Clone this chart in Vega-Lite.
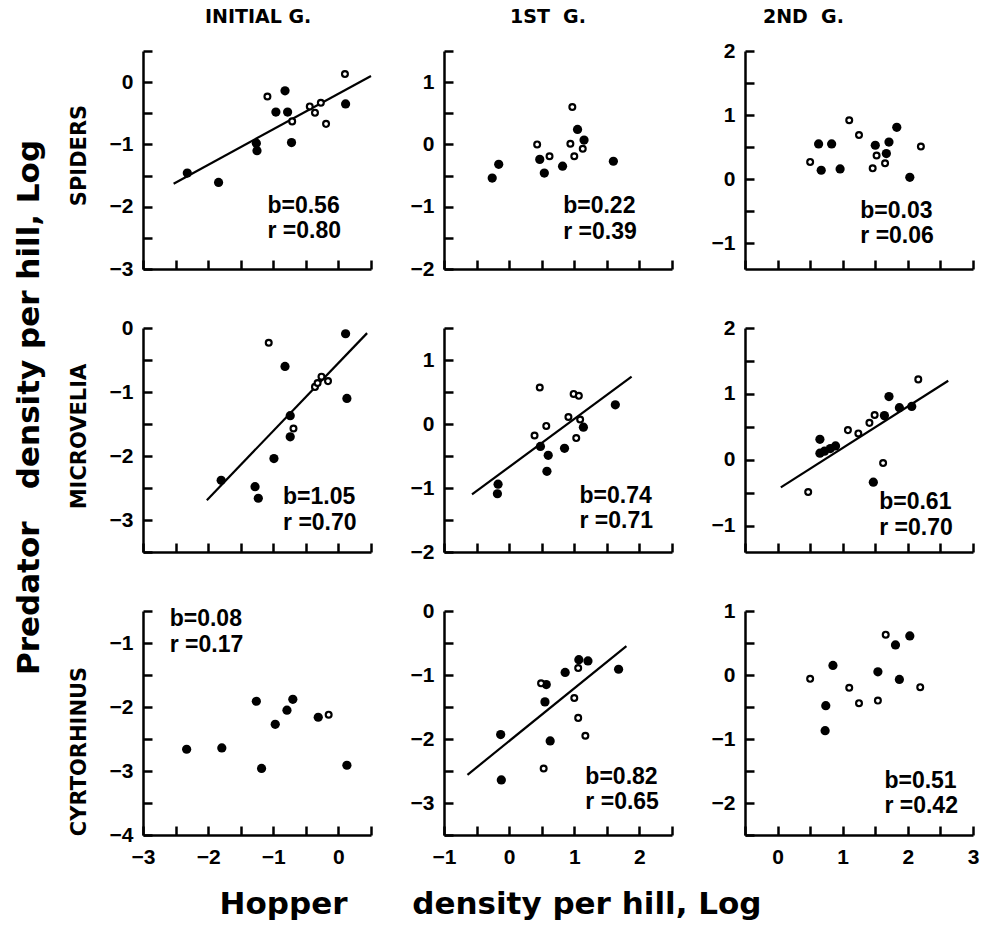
{
  "$schema": "https://vega.github.io/schema/vega-lite/v6.json",
  "padding": {"left": 14, "top": 8, "right": 8, "bottom": 8},
  "title": {"text": "Predator\u00a0\u00a0\u00a0density per hill, Log", "orient": "left", "anchor": "middle", "font": "DejaVu Sans", "fontSize": 31, "fontWeight": "bold", "offset": 22, "dx": 56},
  "datasets": {
    "pts": [
      {"pred":"S","gen":"I","kind":"f","x":-2.32,"y":-1.46},{"pred":"S","gen":"I","kind":"f","x":-1.84,"y":-1.61},{"pred":"S","gen":"I","kind":"f","x":-1.26,"y":-0.98},{"pred":"S","gen":"I","kind":"f","x":-1.25,"y":-1.10},{"pred":"S","gen":"I","kind":"f","x":-0.96,"y":-0.48},{"pred":"S","gen":"I","kind":"f","x":-0.82,"y":-0.14},{"pred":"S","gen":"I","kind":"f","x":-0.78,"y":-0.48},{"pred":"S","gen":"I","kind":"f","x":-0.72,"y":-0.97},{"pred":"S","gen":"I","kind":"f","x":0.11,"y":-0.35},
      {"pred":"S","gen":"I","kind":"o","x":-1.09,"y":-0.23},{"pred":"S","gen":"I","kind":"o","x":-0.71,"y":-0.63},{"pred":"S","gen":"I","kind":"o","x":-0.44,"y":-0.39},{"pred":"S","gen":"I","kind":"o","x":-0.36,"y":-0.49},{"pred":"S","gen":"I","kind":"o","x":-0.27,"y":-0.33},{"pred":"S","gen":"I","kind":"o","x":-0.19,"y":-0.67},{"pred":"S","gen":"I","kind":"o","x":0.10,"y":0.13},
      {"pred":"S","gen":"1","kind":"f","x":-0.26,"y":-0.54},{"pred":"S","gen":"1","kind":"f","x":-0.16,"y":-0.32},{"pred":"S","gen":"1","kind":"f","x":0.47,"y":-0.24},{"pred":"S","gen":"1","kind":"f","x":0.54,"y":-0.46},{"pred":"S","gen":"1","kind":"f","x":0.82,"y":-0.35},{"pred":"S","gen":"1","kind":"f","x":1.05,"y":0.24},{"pred":"S","gen":"1","kind":"f","x":1.15,"y":0.07},{"pred":"S","gen":"1","kind":"f","x":1.60,"y":-0.27},
      {"pred":"S","gen":"1","kind":"o","x":0.43,"y":0.0},{"pred":"S","gen":"1","kind":"o","x":0.62,"y":-0.19},{"pred":"S","gen":"1","kind":"o","x":0.94,"y":0.01},{"pred":"S","gen":"1","kind":"o","x":0.97,"y":0.60},{"pred":"S","gen":"1","kind":"o","x":1.0,"y":-0.19},{"pred":"S","gen":"1","kind":"o","x":1.13,"y":-0.07},
      {"pred":"S","gen":"2","kind":"f","x":0.63,"y":0.55},{"pred":"S","gen":"2","kind":"f","x":0.67,"y":0.14},{"pred":"S","gen":"2","kind":"f","x":0.83,"y":0.55},{"pred":"S","gen":"2","kind":"f","x":0.96,"y":0.16},{"pred":"S","gen":"2","kind":"f","x":1.50,"y":0.53},{"pred":"S","gen":"2","kind":"f","x":1.67,"y":0.40},{"pred":"S","gen":"2","kind":"f","x":1.71,"y":0.58},{"pred":"S","gen":"2","kind":"f","x":1.83,"y":0.81},{"pred":"S","gen":"2","kind":"f","x":2.03,"y":0.03},
      {"pred":"S","gen":"2","kind":"o","x":0.50,"y":0.27},{"pred":"S","gen":"2","kind":"o","x":1.10,"y":0.92},{"pred":"S","gen":"2","kind":"o","x":1.25,"y":0.69},{"pred":"S","gen":"2","kind":"o","x":1.46,"y":0.17},{"pred":"S","gen":"2","kind":"o","x":1.52,"y":0.37},{"pred":"S","gen":"2","kind":"o","x":1.65,"y":0.25},{"pred":"S","gen":"2","kind":"o","x":2.20,"y":0.51},
      {"pred":"M","gen":"I","kind":"f","x":-1.80,"y":-2.38},{"pred":"M","gen":"I","kind":"f","x":-1.28,"y":-2.48},{"pred":"M","gen":"I","kind":"f","x":-1.23,"y":-2.66},{"pred":"M","gen":"I","kind":"f","x":-0.99,"y":-2.04},{"pred":"M","gen":"I","kind":"f","x":-0.82,"y":-0.60},{"pred":"M","gen":"I","kind":"f","x":-0.74,"y":-1.37},{"pred":"M","gen":"I","kind":"f","x":-0.74,"y":-1.70},{"pred":"M","gen":"I","kind":"f","x":0.11,"y":-0.09},{"pred":"M","gen":"I","kind":"f","x":0.13,"y":-1.10},
      {"pred":"M","gen":"I","kind":"o","x":-1.07,"y":-0.23},{"pred":"M","gen":"I","kind":"o","x":-0.69,"y":-1.57},{"pred":"M","gen":"I","kind":"o","x":-0.36,"y":-0.92},{"pred":"M","gen":"I","kind":"o","x":-0.32,"y":-0.86},{"pred":"M","gen":"I","kind":"o","x":-0.26,"y":-0.76},{"pred":"M","gen":"I","kind":"o","x":-0.16,"y":-0.83},
      {"pred":"M","gen":"1","kind":"f","x":-0.17,"y":-0.94},{"pred":"M","gen":"1","kind":"f","x":-0.18,"y":-1.09},{"pred":"M","gen":"1","kind":"f","x":0.48,"y":-0.35},{"pred":"M","gen":"1","kind":"f","x":0.60,"y":-0.49},{"pred":"M","gen":"1","kind":"f","x":0.58,"y":-0.74},{"pred":"M","gen":"1","kind":"f","x":0.85,"y":-0.38},{"pred":"M","gen":"1","kind":"f","x":1.14,"y":-0.05},{"pred":"M","gen":"1","kind":"f","x":1.63,"y":0.30},
      {"pred":"M","gen":"1","kind":"o","x":0.39,"y":-0.18},{"pred":"M","gen":"1","kind":"o","x":0.47,"y":0.57},{"pred":"M","gen":"1","kind":"o","x":0.57,"y":-0.03},{"pred":"M","gen":"1","kind":"o","x":0.91,"y":0.11},{"pred":"M","gen":"1","kind":"o","x":0.99,"y":0.47},{"pred":"M","gen":"1","kind":"o","x":1.07,"y":0.44},{"pred":"M","gen":"1","kind":"o","x":1.03,"y":-0.22},{"pred":"M","gen":"1","kind":"o","x":1.09,"y":0.07},
      {"pred":"M","gen":"2","kind":"f","x":0.65,"y":0.31},{"pred":"M","gen":"2","kind":"f","x":0.65,"y":0.10},{"pred":"M","gen":"2","kind":"f","x":0.72,"y":0.13},{"pred":"M","gen":"2","kind":"f","x":0.81,"y":0.17},{"pred":"M","gen":"2","kind":"f","x":0.89,"y":0.21},{"pred":"M","gen":"2","kind":"f","x":1.47,"y":-0.34},{"pred":"M","gen":"2","kind":"f","x":1.64,"y":0.67},{"pred":"M","gen":"2","kind":"f","x":1.71,"y":0.96},{"pred":"M","gen":"2","kind":"f","x":1.87,"y":0.79},{"pred":"M","gen":"2","kind":"f","x":2.06,"y":0.81},
      {"pred":"M","gen":"2","kind":"o","x":0.47,"y":-0.49},{"pred":"M","gen":"2","kind":"o","x":1.08,"y":0.45},{"pred":"M","gen":"2","kind":"o","x":1.24,"y":0.40},{"pred":"M","gen":"2","kind":"o","x":1.41,"y":0.56},{"pred":"M","gen":"2","kind":"o","x":1.49,"y":0.68},{"pred":"M","gen":"2","kind":"o","x":1.62,"y":-0.05},{"pred":"M","gen":"2","kind":"o","x":2.16,"y":1.22},
      {"pred":"C","gen":"I","kind":"f","x":-2.33,"y":-2.66},{"pred":"C","gen":"I","kind":"f","x":-1.79,"y":-2.64},{"pred":"C","gen":"I","kind":"f","x":-1.26,"y":-1.91},{"pred":"C","gen":"I","kind":"f","x":-1.18,"y":-2.96},{"pred":"C","gen":"I","kind":"f","x":-0.97,"y":-2.27},{"pred":"C","gen":"I","kind":"f","x":-0.79,"y":-2.05},{"pred":"C","gen":"I","kind":"f","x":-0.70,"y":-1.88},{"pred":"C","gen":"I","kind":"f","x":-0.31,"y":-2.16},{"pred":"C","gen":"I","kind":"f","x":0.13,"y":-2.91},
      {"pred":"C","gen":"I","kind":"o","x":-0.15,"y":-2.12},
      {"pred":"C","gen":"1","kind":"f","x":-0.13,"y":-1.93},{"pred":"C","gen":"1","kind":"f","x":-0.12,"y":-2.64},{"pred":"C","gen":"1","kind":"f","x":0.55,"y":-1.42},{"pred":"C","gen":"1","kind":"f","x":0.57,"y":-1.15},{"pred":"C","gen":"1","kind":"f","x":0.63,"y":-2.03},{"pred":"C","gen":"1","kind":"f","x":0.86,"y":-0.96},{"pred":"C","gen":"1","kind":"f","x":1.07,"y":-0.76},{"pred":"C","gen":"1","kind":"f","x":1.21,"y":-0.78},{"pred":"C","gen":"1","kind":"f","x":1.68,"y":-0.91},
      {"pred":"C","gen":"1","kind":"o","x":0.49,"y":-1.13},{"pred":"C","gen":"1","kind":"o","x":0.53,"y":-2.46},{"pred":"C","gen":"1","kind":"o","x":1.0,"y":-1.36},{"pred":"C","gen":"1","kind":"o","x":1.06,"y":-0.89},{"pred":"C","gen":"1","kind":"o","x":1.06,"y":-1.67},{"pred":"C","gen":"1","kind":"o","x":1.17,"y":-1.95},
      {"pred":"C","gen":"2","kind":"f","x":0.73,"y":-0.87},{"pred":"C","gen":"2","kind":"f","x":0.74,"y":-0.48},{"pred":"C","gen":"2","kind":"f","x":0.85,"y":0.15},{"pred":"C","gen":"2","kind":"f","x":1.54,"y":0.05},{"pred":"C","gen":"2","kind":"f","x":1.81,"y":0.47},{"pred":"C","gen":"2","kind":"f","x":1.87,"y":-0.07},{"pred":"C","gen":"2","kind":"f","x":2.03,"y":0.61},
      {"pred":"C","gen":"2","kind":"o","x":0.50,"y":-0.06},{"pred":"C","gen":"2","kind":"o","x":1.10,"y":-0.20},{"pred":"C","gen":"2","kind":"o","x":1.25,"y":-0.44},{"pred":"C","gen":"2","kind":"o","x":1.54,"y":-0.40},{"pred":"C","gen":"2","kind":"o","x":1.66,"y":0.63},{"pred":"C","gen":"2","kind":"o","x":2.19,"y":-0.19}
    ],
    "lines": [
      {"pred":"S","gen":"I","x":-2.53,"y":-1.63},{"pred":"S","gen":"I","x":0.5,"y":0.10},
      {"pred":"M","gen":"I","x":-2.02,"y":-2.69},{"pred":"M","gen":"I","x":0.44,"y":-0.08},
      {"pred":"M","gen":"1","x":-0.57,"y":-1.10},{"pred":"M","gen":"1","x":1.88,"y":0.74},
      {"pred":"M","gen":"2","x":0.05,"y":-0.42},{"pred":"M","gen":"2","x":2.62,"y":1.20},
      {"pred":"C","gen":"1","x":-0.64,"y":-2.56},{"pred":"C","gen":"1","x":1.80,"y":-0.55}
    ],
    "notes": [
      {"pred":"S","gen":"I","label":"b=0.56","x":-1.09,"y":-1.99},{"pred":"S","gen":"I","label":"r =0.80","x":-1.09,"y":-2.39},
      {"pred":"S","gen":"1","label":"b=0.22","x":0.83,"y":-0.99},{"pred":"S","gen":"1","label":"r =0.39","x":0.83,"y":-1.41},
      {"pred":"S","gen":"2","label":"b=0.03","x":1.27,"y":-0.5},{"pred":"S","gen":"2","label":"r =0.06","x":1.27,"y":-0.88},
      {"pred":"M","gen":"I","label":"b=1.05","x":-0.85,"y":-2.64},{"pred":"M","gen":"I","label":"r =0.70","x":-0.85,"y":-3.05},
      {"pred":"M","gen":"1","label":"b=0.74","x":1.08,"y":-1.12},{"pred":"M","gen":"1","label":"r =0.71","x":1.08,"y":-1.52},
      {"pred":"M","gen":"2","label":"b=0.61","x":1.56,"y":-0.64},{"pred":"M","gen":"2","label":"r =0.70","x":1.56,"y":-1.04},
      {"pred":"C","gen":"I","label":"b=0.08","x":-2.59,"y":-0.63},{"pred":"C","gen":"I","label":"r =0.17","x":-2.59,"y":-1.03},
      {"pred":"C","gen":"1","label":"b=0.82","x":1.17,"y":-2.6},{"pred":"C","gen":"1","label":"r =0.65","x":1.17,"y":-2.98},
      {"pred":"C","gen":"2","label":"b=0.51","x":1.64,"y":-1.66},{"pred":"C","gen":"2","label":"r =0.42","x":1.64,"y":-2.04}
    ]
  },
  "columns": 3,
  "bounds": "flush",
  "spacing": {"row": 59, "column": 73},
  "concat": [
    {
      "width": 228, "height": 218,
      "title": {"text": "INITIAL G.", "anchor": "start", "frame": "group", "dx": 62},
      "encoding": {
        "x": {"field": "x", "type": "quantitative", "scale": {"domain": [-3, 0.5], "nice": false, "zero": false}, "axis": {"values": [-3, -2.5, -2, -1.5, -1, -0.5, 0, 0.5], "labels": false, "title": null}},
        "y": {"field": "y", "type": "quantitative", "scale": {"domain": [-3, 0.5], "nice": false, "zero": false}, "axis": {"values": [-3, -2.5, -2, -1.5, -1, -0.5, 0, 0.5], "labelExpr": "datum.value % 1 === 0 ? format(datum.value, 'd') : ''", "title": "SPIDERS", "titleY": 104}}
      },
      "layer": [
        {"data": {"name": "lines"}, "transform": [{"filter": "datum.pred === 'S' && datum.gen === 'I'"}], "mark": {"type": "line", "color": "black", "strokeWidth": 2.2}, "encoding": {}},
        {"data": {"name": "pts"}, "transform": [{"filter": "datum.pred === 'S' && datum.gen === 'I' && datum.kind === 'f'"}], "mark": {"type": "point", "shape": "circle", "filled": true, "color": "black", "opacity": 1, "size": 85}, "encoding": {}},
        {"data": {"name": "pts"}, "transform": [{"filter": "datum.pred === 'S' && datum.gen === 'I' && datum.kind === 'o'"}], "mark": {"type": "point", "shape": "circle", "fill": "white", "stroke": "black", "strokeWidth": 2.2, "opacity": 1, "size": 34}, "encoding": {}},
        {"data": {"name": "notes"}, "transform": [{"filter": "datum.pred === 'S' && datum.gen === 'I'"}], "mark": {"type": "text", "align": "left", "baseline": "middle", "fontSize": 23, "fontWeight": "bold", "color": "black"}, "encoding": {"text": {"field": "label", "type": "nominal"}}}
      ]
    },
    {
      "width": 228, "height": 218,
      "title": {"text": "1ST\u00a0\u00a0G.", "anchor": "start", "frame": "group", "dx": 66},
      "encoding": {
        "x": {"field": "x", "type": "quantitative", "scale": {"domain": [-1, 2.5], "nice": false, "zero": false}, "axis": {"values": [-1, -0.5, 0, 0.5, 1, 1.5, 2, 2.5], "labels": false, "title": null}},
        "y": {"field": "y", "type": "quantitative", "scale": {"domain": [-2, 1.5], "nice": false, "zero": false}, "axis": {"values": [-2, -1.5, -1, -0.5, 0, 0.5, 1, 1.5], "labelExpr": "datum.value % 1 === 0 ? format(datum.value, 'd') : ''", "title": null}}
      },
      "layer": [
        {"data": {"name": "pts"}, "transform": [{"filter": "datum.pred === 'S' && datum.gen === '1' && datum.kind === 'f'"}], "mark": {"type": "point", "shape": "circle", "filled": true, "color": "black", "opacity": 1, "size": 85}, "encoding": {}},
        {"data": {"name": "pts"}, "transform": [{"filter": "datum.pred === 'S' && datum.gen === '1' && datum.kind === 'o'"}], "mark": {"type": "point", "shape": "circle", "fill": "white", "stroke": "black", "strokeWidth": 2.2, "opacity": 1, "size": 34}, "encoding": {}},
        {"data": {"name": "notes"}, "transform": [{"filter": "datum.pred === 'S' && datum.gen === '1'"}], "mark": {"type": "text", "align": "left", "baseline": "middle", "fontSize": 23, "fontWeight": "bold", "color": "black"}, "encoding": {"text": {"field": "label", "type": "nominal"}}}
      ]
    },
    {
      "width": 228, "height": 218,
      "title": {"text": "2ND\u00a0\u00a0G.", "anchor": "start", "frame": "group", "dx": 18},
      "encoding": {
        "x": {"field": "x", "type": "quantitative", "scale": {"domain": [-0.5, 3], "nice": false, "zero": false}, "axis": {"values": [-0.5, 0, 0.5, 1, 1.5, 2, 2.5, 3], "labels": false, "title": null}},
        "y": {"field": "y", "type": "quantitative", "scale": {"domain": [-1.4, 2], "nice": false, "zero": false}, "axis": {"values": [-1, -0.5, 0, 0.5, 1, 1.5, 2], "labelExpr": "datum.value % 1 === 0 ? format(datum.value, 'd') : ''", "title": null}}
      },
      "layer": [
        {"data": {"name": "pts"}, "transform": [{"filter": "datum.pred === 'S' && datum.gen === '2' && datum.kind === 'f'"}], "mark": {"type": "point", "shape": "circle", "filled": true, "color": "black", "opacity": 1, "size": 85}, "encoding": {}},
        {"data": {"name": "pts"}, "transform": [{"filter": "datum.pred === 'S' && datum.gen === '2' && datum.kind === 'o'"}], "mark": {"type": "point", "shape": "circle", "fill": "white", "stroke": "black", "strokeWidth": 2.2, "opacity": 1, "size": 34}, "encoding": {}},
        {"data": {"name": "notes"}, "transform": [{"filter": "datum.pred === 'S' && datum.gen === '2'"}], "mark": {"type": "text", "align": "left", "baseline": "middle", "fontSize": 23, "fontWeight": "bold", "color": "black"}, "encoding": {"text": {"field": "label", "type": "nominal"}}}
      ]
    },
    {
      "width": 228, "height": 224,
      "encoding": {
        "x": {"field": "x", "type": "quantitative", "scale": {"domain": [-3, 0.5], "nice": false, "zero": false}, "axis": {"values": [-3, -2.5, -2, -1.5, -1, -0.5, 0, 0.5], "labels": false, "title": null}},
        "y": {"field": "y", "type": "quantitative", "scale": {"domain": [-3.5, 0], "nice": false, "zero": false}, "axis": {"values": [-3.5, -3, -2.5, -2, -1.5, -1, -0.5, 0], "labelExpr": "datum.value % 1 === 0 ? format(datum.value, 'd') : ''", "title": "MICROVELIA", "titleY": 108}}
      },
      "layer": [
        {"data": {"name": "lines"}, "transform": [{"filter": "datum.pred === 'M' && datum.gen === 'I'"}], "mark": {"type": "line", "color": "black", "strokeWidth": 2.2}, "encoding": {}},
        {"data": {"name": "pts"}, "transform": [{"filter": "datum.pred === 'M' && datum.gen === 'I' && datum.kind === 'f'"}], "mark": {"type": "point", "shape": "circle", "filled": true, "color": "black", "opacity": 1, "size": 85}, "encoding": {}},
        {"data": {"name": "pts"}, "transform": [{"filter": "datum.pred === 'M' && datum.gen === 'I' && datum.kind === 'o'"}], "mark": {"type": "point", "shape": "circle", "fill": "white", "stroke": "black", "strokeWidth": 2.2, "opacity": 1, "size": 34}, "encoding": {}},
        {"data": {"name": "notes"}, "transform": [{"filter": "datum.pred === 'M' && datum.gen === 'I'"}], "mark": {"type": "text", "align": "left", "baseline": "middle", "fontSize": 23, "fontWeight": "bold", "color": "black"}, "encoding": {"text": {"field": "label", "type": "nominal"}}}
      ]
    },
    {
      "width": 228, "height": 224,
      "encoding": {
        "x": {"field": "x", "type": "quantitative", "scale": {"domain": [-1, 2.5], "nice": false, "zero": false}, "axis": {"values": [-1, -0.5, 0, 0.5, 1, 1.5, 2, 2.5], "labels": false, "title": null}},
        "y": {"field": "y", "type": "quantitative", "scale": {"domain": [-2, 1.5], "nice": false, "zero": false}, "axis": {"values": [-2, -1.5, -1, -0.5, 0, 0.5, 1, 1.5], "labelExpr": "datum.value % 1 === 0 ? format(datum.value, 'd') : ''", "title": null}}
      },
      "layer": [
        {"data": {"name": "lines"}, "transform": [{"filter": "datum.pred === 'M' && datum.gen === '1'"}], "mark": {"type": "line", "color": "black", "strokeWidth": 2.2}, "encoding": {}},
        {"data": {"name": "pts"}, "transform": [{"filter": "datum.pred === 'M' && datum.gen === '1' && datum.kind === 'f'"}], "mark": {"type": "point", "shape": "circle", "filled": true, "color": "black", "opacity": 1, "size": 85}, "encoding": {}},
        {"data": {"name": "pts"}, "transform": [{"filter": "datum.pred === 'M' && datum.gen === '1' && datum.kind === 'o'"}], "mark": {"type": "point", "shape": "circle", "fill": "white", "stroke": "black", "strokeWidth": 2.2, "opacity": 1, "size": 34}, "encoding": {}},
        {"data": {"name": "notes"}, "transform": [{"filter": "datum.pred === 'M' && datum.gen === '1'"}], "mark": {"type": "text", "align": "left", "baseline": "middle", "fontSize": 23, "fontWeight": "bold", "color": "black"}, "encoding": {"text": {"field": "label", "type": "nominal"}}}
      ]
    },
    {
      "width": 228, "height": 224,
      "encoding": {
        "x": {"field": "x", "type": "quantitative", "scale": {"domain": [-0.5, 3], "nice": false, "zero": false}, "axis": {"values": [-0.5, 0, 0.5, 1, 1.5, 2, 2.5, 3], "labels": false, "title": null}},
        "y": {"field": "y", "type": "quantitative", "scale": {"domain": [-1.4, 2], "nice": false, "zero": false}, "axis": {"values": [-1, -0.5, 0, 0.5, 1, 1.5, 2], "labelExpr": "datum.value % 1 === 0 ? format(datum.value, 'd') : ''", "title": null}}
      },
      "layer": [
        {"data": {"name": "lines"}, "transform": [{"filter": "datum.pred === 'M' && datum.gen === '2'"}], "mark": {"type": "line", "color": "black", "strokeWidth": 2.2}, "encoding": {}},
        {"data": {"name": "pts"}, "transform": [{"filter": "datum.pred === 'M' && datum.gen === '2' && datum.kind === 'f'"}], "mark": {"type": "point", "shape": "circle", "filled": true, "color": "black", "opacity": 1, "size": 85}, "encoding": {}},
        {"data": {"name": "pts"}, "transform": [{"filter": "datum.pred === 'M' && datum.gen === '2' && datum.kind === 'o'"}], "mark": {"type": "point", "shape": "circle", "fill": "white", "stroke": "black", "strokeWidth": 2.2, "opacity": 1, "size": 34}, "encoding": {}},
        {"data": {"name": "notes"}, "transform": [{"filter": "datum.pred === 'M' && datum.gen === '2'"}], "mark": {"type": "text", "align": "left", "baseline": "middle", "fontSize": 23, "fontWeight": "bold", "color": "black"}, "encoding": {"text": {"field": "label", "type": "nominal"}}}
      ]
    },
    {
      "width": 228, "height": 224,
      "encoding": {
        "x": {"field": "x", "type": "quantitative", "scale": {"domain": [-3, 0.5], "nice": false, "zero": false}, "axis": {"values": [-3, -2.5, -2, -1.5, -1, -0.5, 0, 0.5], "labelExpr": "datum.value % 1 === 0 ? format(datum.value, 'd') : ''", "labelPadding": 20, "title": null}},
        "y": {"field": "y", "type": "quantitative", "scale": {"domain": [-4, -0.5], "nice": false, "zero": false}, "axis": {"values": [-4, -3.5, -3, -2.5, -2, -1.5, -1, -0.5], "labelExpr": "datum.value % 1 === 0 ? format(datum.value, 'd') : ''", "title": "CYRTORHINUS", "titleY": 140}}
      },
      "layer": [
        {"data": {"name": "pts"}, "transform": [{"filter": "datum.pred === 'C' && datum.gen === 'I' && datum.kind === 'f'"}], "mark": {"type": "point", "shape": "circle", "filled": true, "color": "black", "opacity": 1, "size": 85}, "encoding": {}},
        {"data": {"name": "pts"}, "transform": [{"filter": "datum.pred === 'C' && datum.gen === 'I' && datum.kind === 'o'"}], "mark": {"type": "point", "shape": "circle", "fill": "white", "stroke": "black", "strokeWidth": 2.2, "opacity": 1, "size": 34}, "encoding": {}},
        {"data": {"name": "notes"}, "transform": [{"filter": "datum.pred === 'C' && datum.gen === 'I'"}], "mark": {"type": "text", "align": "left", "baseline": "middle", "fontSize": 23, "fontWeight": "bold", "color": "black"}, "encoding": {"text": {"field": "label", "type": "nominal"}}}
      ]
    },
    {
      "width": 228, "height": 224,
      "encoding": {
        "x": {"field": "x", "type": "quantitative", "scale": {"domain": [-1, 2.5], "nice": false, "zero": false}, "axis": {"values": [-1, -0.5, 0, 0.5, 1, 1.5, 2, 2.5], "labelExpr": "datum.value % 1 === 0 ? format(datum.value, 'd') : ''", "labelPadding": 20, "title": "Hopper\u00a0\u00a0\u00a0\u00a0\u00a0\u00a0density per hill, Log", "titleFont": "DejaVu Sans", "titleFontSize": 31, "titleX": 46, "titlePadding": 22}},
        "y": {"field": "y", "type": "quantitative", "scale": {"domain": [-3.5, 0], "nice": false, "zero": false}, "axis": {"values": [-3.5, -3, -2.5, -2, -1.5, -1, -0.5, 0], "labelExpr": "datum.value % 1 === 0 ? format(datum.value, 'd') : ''", "title": null}}
      },
      "layer": [
        {"data": {"name": "lines"}, "transform": [{"filter": "datum.pred === 'C' && datum.gen === '1'"}], "mark": {"type": "line", "color": "black", "strokeWidth": 2.2}, "encoding": {}},
        {"data": {"name": "pts"}, "transform": [{"filter": "datum.pred === 'C' && datum.gen === '1' && datum.kind === 'f'"}], "mark": {"type": "point", "shape": "circle", "filled": true, "color": "black", "opacity": 1, "size": 85}, "encoding": {}},
        {"data": {"name": "pts"}, "transform": [{"filter": "datum.pred === 'C' && datum.gen === '1' && datum.kind === 'o'"}], "mark": {"type": "point", "shape": "circle", "fill": "white", "stroke": "black", "strokeWidth": 2.2, "opacity": 1, "size": 34}, "encoding": {}},
        {"data": {"name": "notes"}, "transform": [{"filter": "datum.pred === 'C' && datum.gen === '1'"}], "mark": {"type": "text", "align": "left", "baseline": "middle", "fontSize": 23, "fontWeight": "bold", "color": "black"}, "encoding": {"text": {"field": "label", "type": "nominal"}}}
      ]
    },
    {
      "width": 228, "height": 224,
      "encoding": {
        "x": {"field": "x", "type": "quantitative", "scale": {"domain": [-0.5, 3], "nice": false, "zero": false}, "axis": {"values": [-0.5, 0, 0.5, 1, 1.5, 2, 2.5, 3], "labelExpr": "datum.value % 1 === 0 ? format(datum.value, 'd') : ''", "labelPadding": 20, "title": null}},
        "y": {"field": "y", "type": "quantitative", "scale": {"domain": [-2.5, 1], "nice": false, "zero": false}, "axis": {"values": [-2.5, -2, -1.5, -1, -0.5, 0, 0.5, 1], "labelExpr": "datum.value % 1 === 0 ? format(datum.value, 'd') : ''", "title": null}}
      },
      "layer": [
        {"data": {"name": "pts"}, "transform": [{"filter": "datum.pred === 'C' && datum.gen === '2' && datum.kind === 'f'"}], "mark": {"type": "point", "shape": "circle", "filled": true, "color": "black", "opacity": 1, "size": 85}, "encoding": {}},
        {"data": {"name": "pts"}, "transform": [{"filter": "datum.pred === 'C' && datum.gen === '2' && datum.kind === 'o'"}], "mark": {"type": "point", "shape": "circle", "fill": "white", "stroke": "black", "strokeWidth": 2.2, "opacity": 1, "size": 34}, "encoding": {}},
        {"data": {"name": "notes"}, "transform": [{"filter": "datum.pred === 'C' && datum.gen === '2'"}], "mark": {"type": "text", "align": "left", "baseline": "middle", "fontSize": 23, "fontWeight": "bold", "color": "black"}, "encoding": {"text": {"field": "label", "type": "nominal"}}}
      ]
    }
  ],
  "config": {
    "font": "Liberation Sans",
    "background": "white",
    "view": {"stroke": null},
    "axis": {
      "grid": false,
      "domainColor": "black", "domainWidth": 2.5,
      "tickColor": "black", "tickWidth": 2.5, "tickSize": -9,
      "labelFont": "Liberation Sans", "labelFontSize": 21, "labelFontWeight": "bold", "labelColor": "black",
      "labelPadding": 19, "labelFlush": false, "labelOverlap": false,
      "titleFont": "DejaVu Sans", "titleFontSize": 21, "titleFontWeight": "bold", "titleColor": "black", "titlePadding": 20
    },
    "title": {"font": "DejaVu Sans", "fontSize": 19, "fontWeight": "bold", "color": "black", "offset": 13}
  }
}
